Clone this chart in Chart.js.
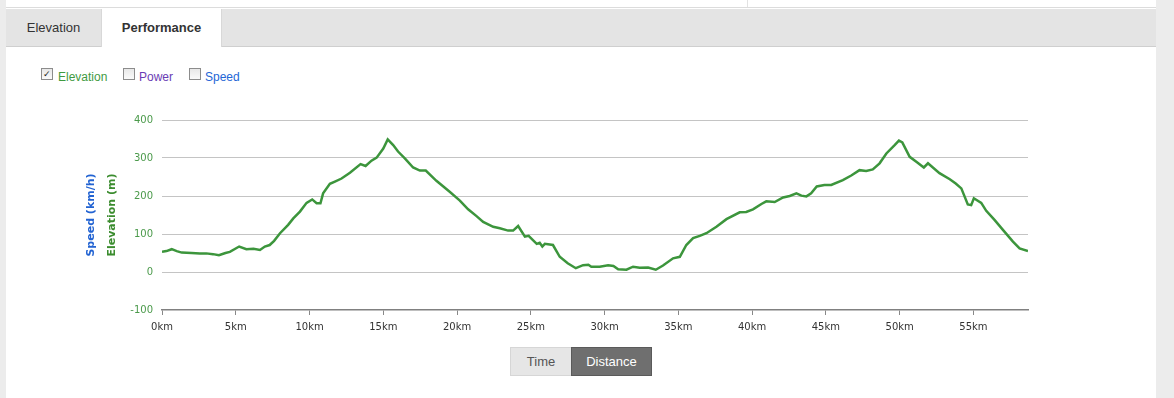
<!DOCTYPE html>
<html>
<head>
<meta charset="utf-8">
<script src="https://cdn.jsdelivr.net/npm/chart.js@4"></script>
<style>
  html, body { margin: 0; padding: 0; background: #fff; width: 1174px; height: 398px; overflow: hidden; font-family: "Liberation Sans", Arial, sans-serif; }
  .leftstrip { position: absolute; left: 0; top: 0; width: 6px; height: 398px; background: #ececec; }
  .rightstrip { position: absolute; left: 1156px; top: 0; width: 18px; height: 398px; background: #ececec; }
  .topline { position: absolute; left: 6px; top: 7px; width: 1150px; height: 1px; background: #dcdcdc; }
  .topdiv { position: absolute; left: 747px; top: 0; width: 1px; height: 7px; background: #e2e2e2; }
  .tabbar { position: absolute; left: 6px; top: 9px; width: 1150px; height: 37px; background: #e4e4e4; border-bottom: 1px solid #cfcfcf; }
  .tab { position: absolute; top: 9px; height: 37px; line-height: 37px; font-size: 13px; color: #333; text-align: center; }
  .tab.active { background: #fff; height: 38px; font-weight: bold; border-left: 1px solid #d8d8d8; border-right: 1px solid #d8d8d8; }
  .legend { position: absolute; top: 70px; font-size: 12px; }
  .box { position: absolute; top: 68px; width: 10px; height: 10px; border: 1px solid #8c8c8c; background: linear-gradient(#e8e8e8, #fafafa); font-size: 9px; line-height: 10px; text-align: center; color: #222; }
  .btn { position: absolute; top: 347px; height: 29px; line-height: 28px; font-size: 13px; text-align: center; box-sizing: border-box; }
  #chart { position: absolute; left: 0; top: 100px; }
</style>
</head>
<body>
<div class="leftstrip"></div>
<div class="rightstrip"></div>
<div class="topline"></div>
<div class="topdiv"></div>
<div class="tabbar"></div>
<div class="tab" style="left:6px;width:95px;">Elevation</div>
<div class="tab active" style="left:101px;width:119px;">Performance</div>

<div class="box" style="left:41px;">&#10003;</div>
<div class="legend" style="left:58px;color:#3f9a3f;">Elevation</div>
<div class="box" style="left:123px;"></div>
<div class="legend" style="left:139px;color:#6a3cb4;">Power</div>
<div class="box" style="left:189px;"></div>
<div class="legend" style="left:205px;color:#2466d6;">Speed</div>

<canvas id="chart" width="1060" height="240"></canvas>

<div class="btn" style="left:510px;width:62px;background:#e6e6e6;color:#555;border:1px solid #d6d6d6;">Time</div>
<div class="btn" style="left:571px;width:81px;background:#6f6f6f;color:#fff;border:1px solid #5a5a5a;">Distance</div>

<script>
// distance along the route (km) and elevation (m)
const distKm = [
  0, 0.3, 0.66, 1.0, 1.34, 2.0, 2.57, 3.0, 3.46, 3.86,
  4.3, 4.6, 5.23, 5.72, 6.2, 6.64, 6.97, 7.3, 7.6, 8.0,
  8.55, 8.9, 9.35, 9.8, 10.18, 10.48, 10.74, 10.92, 11.38, 11.72,
  12.17, 12.74, 13.46, 13.8, 14.2, 14.55, 15.0, 15.3, 15.67, 16.0,
  16.46, 17.02, 17.48, 17.88, 18.6, 19.5, 20.19, 20.75, 21.32, 21.77,
  22.45, 22.9, 23.46, 23.8, 24.14, 24.6, 24.85, 25.4, 25.6, 25.78,
  25.95, 26.5, 26.96, 27.5, 28.05, 28.54, 28.9, 29.1, 29.67, 30.24,
  30.6, 30.92, 31.48, 31.93, 32.38, 32.95, 33.47, 33.96, 34.64, 35.1,
  35.54, 36.0, 36.45, 36.9, 37.58, 38.26, 39.16, 39.6, 40.06, 40.63,
  40.96, 41.53, 42.1, 42.55, 43.0, 43.34, 43.68, 44.0, 44.38, 44.9,
  45.36, 46.15, 46.72, 47.28, 47.73, 48.18, 48.64, 49.1, 49.66, 49.95,
  50.18, 50.68, 51.13, 51.64, 51.92, 52.7, 53.4, 53.8, 54.18, 54.62,
  54.85, 55.03, 55.53, 55.87, 56.43, 57.0, 57.68, 58.13, 58.7
];
const elevM = [
  53, 55, 60, 55, 51, 50, 49, 49, 47, 44,
  50, 53, 67, 60, 61, 58, 67, 71, 82, 102,
  124, 141, 159, 182, 191, 181, 181, 207, 232, 238,
  246, 261, 284, 279, 293, 301, 325, 349, 334, 317,
  299, 275, 267, 267, 240, 211, 188, 165, 147, 132,
  119, 115, 109, 109, 121, 93, 95, 74, 77, 67,
  74, 71, 40, 23, 10, 18, 19, 14, 14, 18,
  16, 7, 6, 14, 11, 12, 6, 17, 36, 40,
  71, 89, 95, 102, 119, 139, 157, 158, 165, 179,
  186, 184, 196, 200, 207, 201, 199, 207, 225, 229,
  229, 242, 254, 268, 266, 270, 286, 312, 334, 346,
  341, 303, 290, 275, 286, 260, 244, 233, 220, 178,
  176, 194, 182, 161, 137, 111, 80, 62, 55
];
const xMax = 58.7;
const yTicks = [-100, 0, 100, 200, 300, 400];

const points = distKm.map((d, i) => ({ x: d, y: elevM[i] }));

const tickFont = { family: 'DejaVu Sans', size: 10 };

new Chart(document.getElementById('chart').getContext('2d'), {
    type: 'line',
    data: {
        datasets: [{
            label: 'Elevation',
            data: points,
            borderColor: '#3c953c',
            borderWidth: 2.5,
            pointRadius: 0,
            tension: 0,
            fill: false,
            yAxisID: 'y'
        }]
    },
    options: {
        responsive: false,
        animation: false,
        layout: { padding: { left: 80, right: 32, top: 20, bottom: 0 } },
        plugins: {
            legend: { display: false },
            tooltip: { enabled: false }
        },
        scales: {
            x: {
                type: 'linear',
                min: 0,
                max: xMax,
                grid: { display: true, drawOnChartArea: false, drawTicks: true, tickLength: 5, color: '#888' },
                border: { display: true, color: '#808080', width: 1.5 },
                ticks: {
                    stepSize: 5,
                    includeBounds: false,
                    maxRotation: 0,
                    autoSkip: false,
                    padding: 6,
                    color: '#333',
                    font: tickFont,
                    callback: v => v + 'km'
                },
                afterFit: s => { s.height = 30; }
            },
            y: {
                position: 'left',
                weight: 0,
                min: yTicks[0],
                max: yTicks[yTicks.length - 1],
                afterBuildTicks: s => { s.ticks = yTicks.map(v => ({ value: v })); },
                grid: {
                    drawTicks: false,
                    color: ctx => ctx.tick && ctx.tick.value === -100 ? 'rgba(0,0,0,0)' : '#c4c4c4'
                },
                border: { display: false },
                ticks: { padding: 9, color: '#4b9a4b', font: tickFont },
                title: {
                    display: true,
                    text: 'Elevation (m)',
                    color: '#3b8c2e',
                    font: { family: 'DejaVu Sans', size: 11, weight: 'bold' },
                    padding: { top: 6, bottom: 0 }
                },
                afterFit: s => { s.width = 62; }
            },
            y2: {
                position: 'left',
                weight: 1,
                grid: { display: false, drawTicks: false },
                border: { display: false },
                ticks: { display: false },
                title: {
                    display: true,
                    text: 'Speed (km/h)',
                    color: '#2263d2',
                    font: { family: 'DejaVu Sans', size: 11, weight: 'bold' },
                    padding: { top: 5, bottom: 0 }
                },
                afterFit: s => { s.width = 20; }
            }
        }
    }
});
</script>
</body>
</html>
